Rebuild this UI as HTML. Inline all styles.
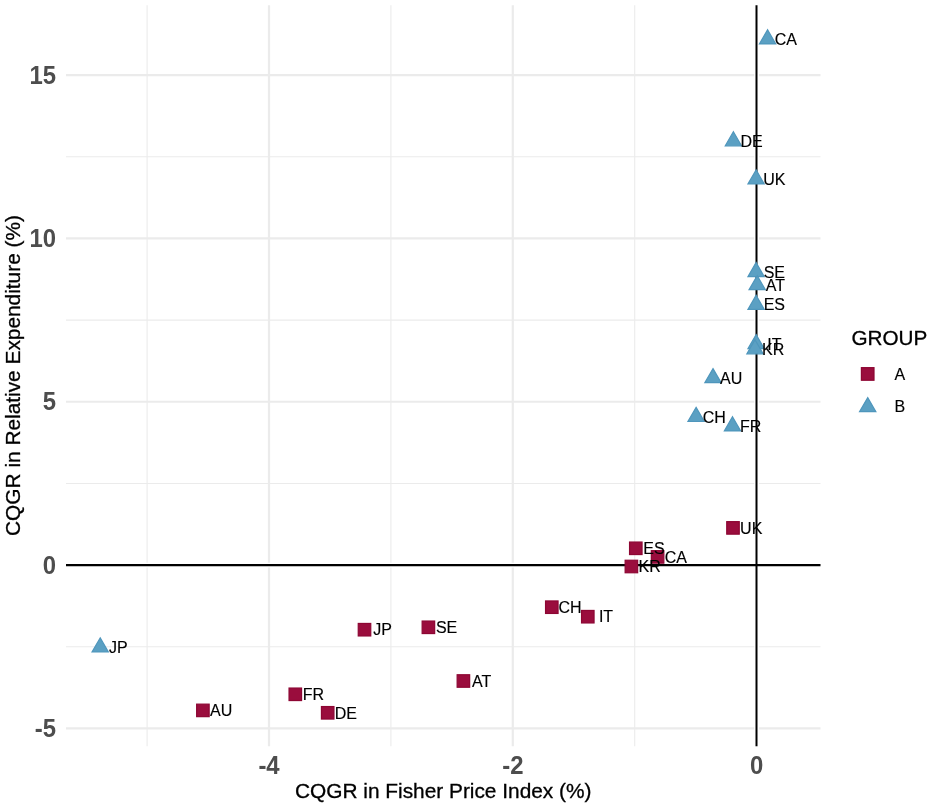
<!DOCTYPE html>
<html><head><meta charset="utf-8"><title>chart</title>
<style>
html,body{margin:0;padding:0;background:#fff;}
svg{display:block;will-change:transform;}
text{font-family:"Liberation Sans",sans-serif;}
.tk{font-weight:bold;font-size:23.6px;fill:#4d4d4d;}
.ax{font-size:20.85px;fill:#000;stroke:#000;stroke-width:0.3px;}
.lb{font-size:16px;fill:#000;text-anchor:middle;stroke:#000;stroke-width:0.15px;}
.lg{font-size:16px;fill:#000;stroke:#000;stroke-width:0.15px;}
</style></head><body>
<svg width="931" height="808" viewBox="0 0 931 808">
<rect width="931" height="808" fill="#fff"/>
<g stroke="#ebebeb" stroke-width="1.1" fill="none">
<line x1="66.0" x2="820.5" y1="156.73" y2="156.73"/>
<line x1="66.0" x2="820.5" y1="320.08" y2="320.08"/>
<line x1="66.0" x2="820.5" y1="483.43" y2="483.43"/>
<line x1="66.0" x2="820.5" y1="646.78" y2="646.78"/>
<line x1="147.10" x2="147.10" y1="5.2" y2="746.2"/>
<line x1="390.90" x2="390.90" y1="5.2" y2="746.2"/>
<line x1="634.70" x2="634.70" y1="5.2" y2="746.2"/>
</g>
<g stroke="#ebebeb" stroke-width="2.2" fill="none">
<line x1="66.0" x2="820.5" y1="75.05" y2="75.05"/>
<line x1="66.0" x2="820.5" y1="238.40" y2="238.40"/>
<line x1="66.0" x2="820.5" y1="401.75" y2="401.75"/>
<line x1="66.0" x2="820.5" y1="565.10" y2="565.10"/>
<line x1="66.0" x2="820.5" y1="728.45" y2="728.45"/>
<line x1="269.00" x2="269.00" y1="5.2" y2="746.2"/>
<line x1="512.80" x2="512.80" y1="5.2" y2="746.2"/>
<line x1="756.60" x2="756.60" y1="5.2" y2="746.2"/>
</g>
<g stroke="#fff" stroke-width="4.8">
<line x1="66.0" x2="820.5" y1="565.10" y2="565.10"/>
<line x1="756.60" x2="756.60" y1="5.2" y2="746.2"/>
</g>
<g stroke="#000" stroke-width="2.1">
<line x1="66.0" x2="820.5" y1="565.10" y2="565.10"/>
<line x1="756.50" x2="756.50" y1="5.2" y2="746.2" stroke-width="2"/>
</g>
<g fill="#9a0d3d" stroke="#8d0633" stroke-width="1.2">
<rect x="726.75" y="521.65" width="12.50" height="12.50"/>
<rect x="629.55" y="542.05" width="12.50" height="12.50"/>
<rect x="651.35" y="550.65" width="12.50" height="12.50"/>
<rect x="625.15" y="560.25" width="12.50" height="12.50"/>
<rect x="545.55" y="600.95" width="12.50" height="12.50"/>
<rect x="581.55" y="610.45" width="12.50" height="12.50"/>
<rect x="358.25" y="623.45" width="12.50" height="12.50"/>
<rect x="422.15" y="621.05" width="12.50" height="12.50"/>
<rect x="457.15" y="674.75" width="12.50" height="12.50"/>
<rect x="289.05" y="688.05" width="12.50" height="12.50"/>
<rect x="196.65" y="704.15" width="12.50" height="12.50"/>
<rect x="321.45" y="706.55" width="12.50" height="12.50"/>
</g>
<g fill="#5ba0c3" stroke="#4f96bc" stroke-width="1.2">
<polygon points="767.60,29.80 775.74,43.90 759.46,43.90"/>
<polygon points="733.40,131.70 741.54,145.80 725.26,145.80"/>
<polygon points="756.10,169.90 764.24,184.00 747.96,184.00"/>
<polygon points="756.10,262.50 764.24,276.60 747.96,276.60"/>
<polygon points="757.20,275.60 765.34,289.70 749.06,289.70"/>
<polygon points="756.10,295.30 764.24,309.40 747.96,309.40"/>
<polygon points="756.10,334.60 764.24,348.70 747.96,348.70"/>
<polygon points="755.00,339.70 763.14,353.80 746.86,353.80"/>
<polygon points="713.00,368.60 721.14,382.70 704.86,382.70"/>
<polygon points="696.10,407.40 704.24,421.50 687.96,421.50"/>
<polygon points="732.50,416.80 740.64,430.90 724.36,430.90"/>
<polygon points="100.20,637.90 108.34,652.00 92.06,652.00"/>
</g>
<g class="lb">
<text x="751.20" y="533.60">UK</text>
<text x="654.00" y="554.00">ES</text>
<text x="675.80" y="562.60">CA</text>
<text x="649.60" y="572.20">KR</text>
<text x="570.00" y="612.90">CH</text>
<text x="606.00" y="622.40">IT</text>
<text x="382.70" y="635.40">JP</text>
<text x="446.60" y="633.00">SE</text>
<text x="481.60" y="686.70">AT</text>
<text x="313.50" y="700.00">FR</text>
<text x="221.10" y="716.10">AU</text>
<text x="345.90" y="718.50">DE</text>
<text x="785.80" y="44.90">CA</text>
<text x="751.60" y="146.80">DE</text>
<text x="774.30" y="185.00">UK</text>
<text x="774.30" y="277.60">SE</text>
<text x="775.40" y="290.70">AT</text>
<text x="774.30" y="310.40">ES</text>
<text x="774.30" y="349.70">IT</text>
<text x="773.20" y="354.80">KR</text>
<text x="731.20" y="383.70">AU</text>
<text x="714.30" y="422.50">CH</text>
<text x="750.70" y="431.90">FR</text>
<text x="118.40" y="653.00">JP</text>
</g>
<g class="tk" text-anchor="end">
<text transform="translate(56.1,83.75) scale(1.013,1.055)">15</text>
<text transform="translate(56.1,247.10) scale(1.013,1.055)">10</text>
<text transform="translate(56.1,410.45) scale(1.013,1.055)">5</text>
<text transform="translate(56.1,573.80) scale(1.013,1.055)">0</text>
<text transform="translate(56.1,737.15) scale(1.013,1.055)">-5</text>
</g>
<g class="tk" text-anchor="middle">
<text transform="translate(269.00,773.8) scale(1.013,1.055)">-4</text>
<text transform="translate(512.80,773.8) scale(1.013,1.055)">-2</text>
<text transform="translate(756.60,773.8) scale(1.013,1.055)">0</text>
</g>
<text class="ax" text-anchor="middle" x="443.2" y="797.7">CQGR in Fisher Price Index (%)</text>
<text class="ax" text-anchor="middle" transform="translate(19.9,375.5) rotate(-90)">CQGR in Relative Expenditure (%)</text>
<text x="851.4" y="344.8" style="font-size:20.7px;stroke:#000;stroke-width:0.3px" fill="#000">GROUP</text>
<g fill="#9a0d3d" stroke="#8d0633" stroke-width="1.2"><rect x="861.40" y="367.65" width="12.60" height="12.60"/>
</g>
<g fill="#5ba0c3" stroke="#4f96bc" stroke-width="1.2"><polygon points="867.70,397.60 875.84,411.70 859.56,411.70"/>
</g>
<text class="lg" x="894.5" y="379.8">A</text>
<text class="lg" x="894.5" y="412.4">B</text>
</svg>
</body></html>
